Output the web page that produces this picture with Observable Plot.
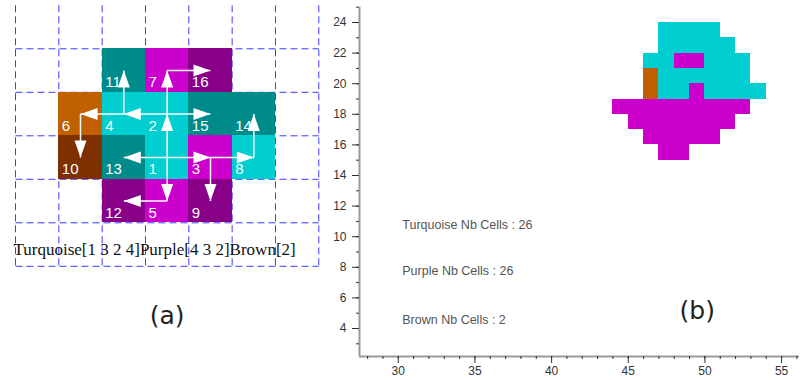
<!DOCTYPE html>
<html><head><meta charset="utf-8">
<script src="https://cdn.jsdelivr.net/npm/d3@7"></script>
<script src="https://cdn.jsdelivr.net/npm/@observablehq/plot@0.6"></script>
<style>
body{margin:0;background:#fff;}
#fig{position:relative;width:802px;height:380px;overflow:hidden;background:#fff;}
#pa{position:absolute;left:0;top:0;}
#pb{position:absolute;left:325px;top:0;}
</style></head><body><div id="fig"><div id="pa"></div><div id="pb"></div></div>
<script>
// ---------- Panel (a): labelled cells and growth arrows ----------
const cellIds     = [11, 7, 16, 6, 4, 2, 15, 14, 10, 13, 1, 3, 8, 12, 5, 9];
const cellCols    = [2, 3, 4, 1, 2, 3, 4, 5, 1, 2, 3, 4, 5, 2, 3, 4];
const cellRows    = [1, 1, 1, 2, 2, 2, 2, 2, 3, 3, 3, 3, 3, 4, 4, 4];
const cellClasses = ["teal","magenta","darkpurple","orange","turquoise","turquoise","teal","teal",
                     "brown","teal","turquoise","magenta","turquoise","darkpurple","magenta","darkpurple"];
const arrowFrom = [1, 2, 1, 1, 1, 3, 8, 3, 2, 2, 4, 4, 6, 7, 5];
const arrowTo   = [2, 7, 5, 13, 3, 8, 14, 9, 4, 15, 6, 11, 10, 16, 12];
const legendA = "Turquoise[1 3 2 4]Purple[4 3 2]Brown[2]";
const nCols = 7, nRows = 6;

// ---------- Panel (b): region map ----------
const runClass = ["turquoise","turquoise","turquoise","turquoise","turquoise","turquoise","turquoise",
                  "purple","purple","purple","purple","purple","purple","brown","brown"];
const runY  = [23, 22, 21, 21, 20, 19, 19, 21, 19, 18, 17, 16, 15, 20, 19];
const runX1 = [47, 47, 46, 50, 47, 47, 50, 48, 49, 44, 45, 46, 47, 46, 46];
const runX2 = [51, 52, 48, 53, 53, 49, 54, 50, 50, 53, 52, 51, 49, 47, 47];
const countNames  = ["Turquoise", "Purple", "Brown"];
const countValues = [26, 26, 2];
const xMajor = [30, 35, 40, 45, 50, 55];
const yMajor = [4, 6, 8, 10, 12, 14, 16, 18, 20, 22, 24];

// ---------- styles ----------
const colA = {teal:"#008b8b", turquoise:"#00ced1", magenta:"#cc00cc", darkpurple:"#880088", orange:"#c06000", brown:"#7f3000"};
const colB = {turquoise:"#00ced1", purple:"#cc00cc", brown:"#bf5f00"};
const gridBlue = "#3b3bff";

const cellsA = cellIds.map((id, i) => ({id, c: cellCols[i], r: cellRows[i], k: cellClasses[i]}));
const byId = new Map(cellsA.map(d => [d.id, d]));
const arrows = arrowFrom.map((f, i) => {
  const a = byId.get(f), b = byId.get(arrowTo[i]);
  return {x1: a.c + 0.5, y1: a.r + 0.5, x2: b.c + 0.5, y2: b.r + 0.5,
          rot: Math.atan2(b.r - a.r, b.c - a.c) * 180 / Math.PI};
});
const arrowHead = {draw(ctx) { ctx.moveTo(0, 0); ctx.lineTo(-17, -6); ctx.lineTo(-17, 6); ctx.closePath(); }};
const vLines = d3.range(nCols + 1).map(i => ({x1: i, x2: i, y1: 0, y2: nRows}));
const hLines = d3.range(1, nRows + 1).map(j => ({x1: 0, x2: nCols, y1: j, y2: j}));

const plotA = Plot.plot({
  width: 325, height: 380, marginLeft: 15, marginRight: 6.7, marginTop: 4.8, marginBottom: 114.2,
  x: {domain: [0, nCols], axis: null},
  y: {domain: [0, nRows], reverse: true, axis: null},
  style: {background: "transparent", overflow: "visible"},
  marks: [
    Plot.link(vLines.concat(hLines), {x1: "x1", y1: "y1", x2: "x2", y2: "y2", stroke: gridBlue, strokeWidth: 1, strokeDasharray: "7,4"}),
    Plot.rect(cellsA, {x1: "c", x2: d => d.c + 1, y1: "r", y2: d => d.r + 1, fill: d => colA[d.k], shapeRendering: "crispEdges"}),
    Plot.text(cellsA, {x: "c", y: d => d.r + 1, text: d => String(d.id), textAnchor: "start", lineAnchor: "bottom",
      dx: 3, dy: -5, fill: "white", fontSize: 15, fontFamily: "Liberation Sans, Arial, sans-serif"}),
    Plot.link(arrows, {x1: "x1", y1: "y1", x2: "x2", y2: "y2", stroke: "white", strokeWidth: 1.5}),
    Plot.dot(arrows, {x: "x2", y: "y2", rotate: "rot", symbol: arrowHead, fill: "white", stroke: "none"}),
    Plot.text([legendA], {x: 0, y: nRows, dx: -2, dy: -11.5, text: d => d, textAnchor: "start", lineAnchor: "bottom",
      fontSize: 17, fontFamily: "Liberation Serif, Times New Roman, serif", fill: "#111"}),
    Plot.text(["(a)"], {x: nCols / 2, y: nRows, dy: 50, text: d => d, lineAnchor: "middle",
      fontSize: 25, fontFamily: "DejaVu Sans, sans-serif", fill: "#222"})
  ]
});
document.getElementById("pa").append(plotA);

const runs = runClass.map((k, i) => ({k, y: runY[i], x1: runX1[i], x2: runX2[i]}));
const xDom = [27.47, 56.17], yDom = [2.17, 25];
const countText = countNames.map((n, i) => `${n} Nb Cells : ${countValues[i]}`);
const countY = [10.77, 7.77, 4.57];

const plotB = Plot.plot({
  width: 477, height: 380, marginLeft: 34, marginRight: 3, marginTop: 6.7, marginBottom: 24,
  x: {domain: xDom}, y: {domain: yDom},
  style: {background: "transparent", fontFamily: "Liberation Sans, Arial, sans-serif", fontSize: "12px", color: "#333", overflow: "visible"},
  marks: [
    Plot.rect(runs, {x1: "x1", x2: "x2", y1: "y", y2: d => d.y + 1, fill: d => colB[d.k], shapeRendering: "crispEdges"}),
    Plot.ruleX([xDom[0]], {stroke: "#999", strokeWidth: 2}),
    Plot.ruleY([yDom[0]], {stroke: "#999", strokeWidth: 2}),
    Plot.axisX(d3.range(28, 57), {tickSize: 3, tickFormat: () => "", label: null}),
    Plot.axisX(xMajor, {tickSize: 7, tickPadding: 3, label: null, fontSize: 12}),
    Plot.axisY(d3.range(3, 26), {tickSize: 3, tickFormat: () => "", label: null}),
    Plot.axisY(yMajor, {tickSize: 7, tickPadding: 6, label: null, fontSize: 12}),
    Plot.text(countText, {x: 30.26, y: (d, i) => countY[i], text: d => d, textAnchor: "start", lineAnchor: "middle",
      fontSize: 12.5, fill: "#555"}),
    Plot.text(["(b)"], {x: 49.5, y: 5.17, text: d => d, lineAnchor: "middle",
      fontSize: 25, fontFamily: "DejaVu Sans, sans-serif", fill: "#222"})
  ]
});
document.getElementById("pb").append(plotB);
</script></body></html>
